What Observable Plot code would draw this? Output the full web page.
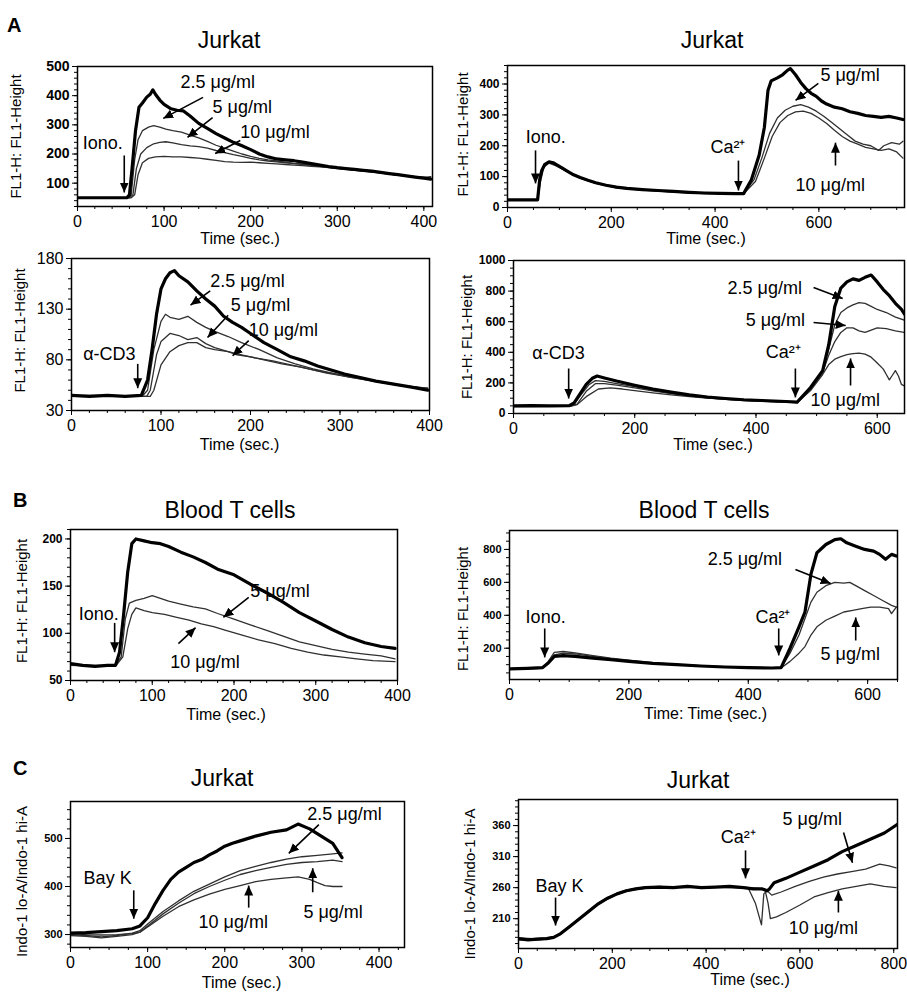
<!DOCTYPE html>
<html><head><meta charset="utf-8">
<script src="https://cdn.jsdelivr.net/npm/d3@7"></script>
<script src="https://cdn.jsdelivr.net/npm/@observablehq/plot@0.6"></script>
<style>
body{margin:0;background:#fff;font-family:"Liberation Sans",Arial,sans-serif;}
#fig{position:relative;width:907px;height:992px;overflow:hidden;background:#fff;}
.title{position:absolute;font-size:23px;transform:translate(-50%,-50%);white-space:nowrap;color:#000;}
.letter{position:absolute;font-size:20px;font-weight:bold;transform:translate(0,-50%);color:#000;}
.panel{position:absolute;}
</style></head>
<body><div id="fig"></div>
<script>
// ---------- Data: [time (sec), signal] ----------
// A, top-left (Jurkat, Iono.)
const a1_ctrl=[[0,50],[20,50],[40,50],[57,50],[60,60],[63,150],[67,280],[71,360],[75,375],[80,395],[84,405],[87,420],[90,405],[95,385],[100,370],[108,355],[115,350],[122,348],[130,330],[140,305],[150,288],[160,270],[170,255],[180,240],[190,228],[200,215],[210,200],[220,190],[230,183],[240,180],[250,177],[260,172],[270,167],[280,162],[290,157],[300,153],[310,150],[320,147],[330,144],[340,141],[350,137],[360,133],[370,129],[380,125],[390,121],[400,117],[408,114]];
const a1_25=[[0,50],[58,50],[62,60],[66,180],[70,250],[75,280],[82,292],[88,297],[95,292],[102,285],[110,280],[120,275],[130,265],[140,255],[150,243],[160,230],[170,220],[180,210],[190,200],[200,192],[210,185],[220,180],[230,176],[240,172],[250,168],[260,165],[270,162],[280,158],[290,155],[300,152],[310,149],[320,146],[330,143],[340,140],[350,136],[360,132],[370,128],[380,125],[390,122],[400,120],[408,122]];
const a1_5=[[0,50],[60,50],[64,60],[68,150],[73,200],[80,222],[88,235],[95,240],[102,242],[110,238],[120,232],[130,228],[140,225],[150,220],[160,212],[170,205],[180,198],[190,192],[200,185],[210,180],[220,176],[230,173],[240,170],[250,167],[260,164],[270,161],[280,158],[290,155],[300,151],[310,148],[320,145],[330,142],[340,139],[350,135],[360,131],[370,128],[380,125],[390,122],[400,120],[408,118]];
const a1_10=[[0,50],[62,50],[66,60],[70,130],[75,170],[82,185],[90,190],[100,192],[110,190],[120,190],[130,188],[140,186],[150,182],[160,178],[170,174],[180,172],[190,171],[200,172],[210,170],[220,168],[230,166],[240,164],[250,162],[260,160],[270,158],[280,156],[290,153],[300,150],[310,147],[320,144],[330,141],[340,138],[350,135],[360,131],[370,128],[380,124],[390,121],[400,118],[408,116]];
// A, top-right (Jurkat, Iono. then Ca2+)
const a2_ctrl=[[0,25],[30,25],[58,25],[62,90],[66,120],[72,140],[80,148],[88,145],[95,138],[105,128],[115,118],[125,108],[140,97],[155,88],[170,80],[190,72],[210,66],[230,62],[260,58],[290,55],[320,52],[350,49],[380,47],[410,46],[440,45],[455,45],[470,90],[485,170],[495,260],[502,380],[508,410],[520,420],[530,430],[540,445],[545,450],[555,430],[565,405],[575,385],[585,370],[595,360],[605,345],[615,335],[630,325],[645,320],[660,310],[675,305],[690,298],[705,295],[720,292],[735,295],[750,290],[762,285]];
const a2_5=[[0,25],[58,25],[62,85],[70,135],[80,146],[95,136],[115,117],[140,96],[170,79],[210,65],[260,57],[320,51],[380,46],[455,44],[475,90],[490,160],[505,240],[520,290],[535,315],[550,328],[565,333],[580,325],[595,312],[610,295],[625,275],[640,255],[655,235],[670,215],[685,205],[700,200],[715,185],[725,200],[740,210],[755,205],[762,215]];
const a2_10=[[0,25],[58,25],[63,80],[70,130],[80,144],[95,134],[115,116],[140,95],[170,78],[210,64],[260,56],[320,50],[380,45],[455,44],[478,85],[495,160],[510,230],[525,275],[540,298],[555,310],[570,312],[585,305],[600,290],[615,272],[630,250],[645,230],[660,215],[675,205],[690,195],[705,190],[720,185],[735,190],[750,180],[762,160]];
// A, bottom-left (Jurkat, anti-CD3)
const a3_ctrl=[[0,45],[20,44],[40,45],[60,44],[78,45],[85,60],[90,90],[95,125],[100,150],[105,160],[110,166],[115,168],[120,163],[130,157],[140,148],[150,140],[160,133],[170,123],[180,117],[190,112],[200,106],[215,97],[230,90],[245,83],[260,79],[275,74],[290,70],[305,66],[320,63],[340,59],[360,56],[380,53],[398,50]];
const a3_25=[[0,45],[40,44],[80,45],[85,50],[92,90],[100,118],[105,125],[110,122],[120,120],[130,123],[140,117],[150,112],[160,108],[175,103],[190,97],[210,90],[230,82],[250,76],[270,71],[290,67],[310,63],[330,60],[350,57],[370,54],[398,52]];
const a3_5=[[0,45],[40,45],[84,44],[88,50],[95,85],[100,98],[110,106],[120,104],[130,100],[140,102],[150,96],[160,92],[175,88],[190,85],[205,82],[225,79],[245,75],[265,71],[285,67],[305,64],[325,61],[345,58],[365,55],[385,53],[398,51]];
const a3_10=[[0,44],[40,44],[88,44],[92,50],[100,75],[110,88],[120,94],[130,97],[140,97],[150,92],[160,90],[175,88],[185,85],[200,83],[215,80],[235,76],[255,73],[275,69],[295,66],[315,63],[335,60],[355,57],[375,54],[398,52]];
// A, bottom-right (Jurkat, anti-CD3 then Ca2+)
const a4_ctrl=[[0,50],[30,52],[60,50],[92,52],[100,70],[110,130],[120,190],[130,230],[138,245],[150,232],[170,212],[200,185],[230,160],[260,140],[290,122],[320,108],[350,98],[380,90],[410,85],[440,80],[468,75],[490,170],[510,280],[520,450],[530,700],[540,820],[550,860],[560,880],[570,870],[580,890],[590,905],[600,860],[610,810],[620,770],[630,720],[640,680],[645,650]];
const a4_25=[[0,48],[92,50],[100,62],[110,115],[125,190],[135,215],[150,210],[170,195],[200,175],[230,152],[260,133],[290,117],[320,104],[350,95],[380,88],[410,83],[440,78],[468,72],[490,160],[510,280],[520,420],[530,580],[540,660],[550,690],[560,710],[570,725],[580,720],[590,700],[600,680],[615,660],[630,630],[645,610]];
const a4_5=[[0,48],[95,50],[105,62],[120,145],[135,195],[150,195],[170,185],[200,168],[230,148],[260,130],[290,115],[320,102],[350,93],[380,86],[410,81],[440,76],[468,72],[490,160],[510,270],[520,380],[530,470],[540,530],[550,560],[560,560],[570,540],[580,530],[590,545],[600,560],[615,555],[630,540],[645,530]];
const a4_10=[[0,45],[95,48],[105,58],[120,110],[140,160],[160,168],[180,160],[200,150],[230,135],[260,122],[290,110],[320,100],[350,92],[380,85],[410,80],[440,75],[468,70],[490,150],[510,255],[520,320],[530,355],[540,372],[550,385],[560,392],[570,395],[580,388],[590,368],[600,330],[610,290],[615,255],[620,220],[625,250],[630,280],[635,245],[640,190],[645,180]];
// B, left (Blood T cells, Iono.)
const b1_ctrl=[[0,68],[15,66],[30,65],[45,66],[55,66],[60,80],[65,120],[70,165],[75,195],[80,200],[90,198],[100,196],[110,195],[120,192],[135,186],[150,181],[165,175],[180,168],[200,162],[220,152],[240,143],[260,133],[280,122],[300,113],[320,104],[340,96],[360,90],[380,86],[397,84]];
const b1_5=[[0,67],[30,66],[55,66],[62,75],[67,115],[72,132],[80,135],[90,137],[100,140],[110,137],[120,134],[135,131],[150,128],[165,126],[180,121],[200,115],[220,109],[240,103],[260,97],[280,91],[300,87],[320,83],[340,80],[360,78],[380,76],[397,73]];
const b1_10=[[0,66],[30,65],[55,65],[64,75],[70,105],[75,120],[80,127],[90,124],[100,122],[115,120],[130,117],[145,114],[160,110],[175,107],[190,103],[210,98],[230,93],[250,89],[270,84],[290,80],[310,77],[330,75],[350,73],[370,71],[397,70]];
// B, right (Blood T cells, Iono. then Ca2+)
const b2_ctrl=[[0,75],[30,78],[55,82],[65,110],[75,150],[90,155],[110,150],[140,140],[170,130],[200,120],[240,108],[280,100],[320,92],[360,86],[400,82],[440,80],[455,82],[470,200],[485,330],[495,420],[505,650],[515,780],[530,830],[545,860],[555,865],[565,840],[580,820],[595,800],[610,790],[620,770],[630,740],[640,770],[648,760]];
const b2_25=[[0,75],[55,80],[65,120],[75,175],[90,180],[110,172],[140,155],[170,140],[200,128],[240,112],[280,102],[320,94],[360,88],[400,83],[440,80],[455,80],[470,170],[485,280],[495,380],[505,480],[515,540],[530,580],[545,600],[560,595],[570,600],[580,580],[595,550],[610,520],[625,490],[640,460],[648,450]];
const b2_5=[[0,72],[55,78],[65,110],[75,160],[90,170],[110,165],[140,150],[170,137],[200,125],[240,110],[280,100],[320,93],[360,87],[400,82],[440,79],[455,80],[470,120],[485,170],[495,210],[505,280],[515,330],[530,370],[545,395],[560,420],[575,430],[590,440],[605,450],[620,450],[635,440],[640,410],[648,450]];
// C, left (Jurkat, Bay K)
const c1_ctrl=[[0,303],[20,304],[40,306],[60,308],[80,312],[90,318],[100,335],[110,365],[120,392],[130,415],[140,430],[150,440],[160,450],[170,456],[180,466],[190,474],[200,484],[210,490],[220,495],[240,505],[260,513],[280,518],[295,530],[310,520],[325,505],[340,490],[352,460]];
const c1_25=[[0,300],[20,298],[40,295],[60,298],[80,303],[90,308],[100,322],[120,348],[140,370],[160,390],[180,405],[200,420],[220,433],[240,442],[260,450],[280,457],[300,462],[320,465],[340,468],[352,470]];
const c1_5=[[0,298],[20,296],[40,293],[60,296],[80,300],[90,305],[100,318],[120,343],[140,365],[160,385],[180,400],[200,413],[220,425],[240,433],[260,440],[280,446],[300,450],[320,452],[340,455],[352,452]];
const c1_10=[[0,302],[20,300],[40,299],[60,300],[80,302],[90,305],[100,316],[120,338],[140,358],[160,372],[180,384],[200,394],[220,402],[240,410],[260,415],[280,418],[295,420],[310,415],[320,408],[330,402],[340,400],[352,400]];
// C, right (Jurkat, Bay K then Ca2+)
const c2_ctrl=[[0,178],[20,176],[40,177],[60,178],[75,180],[90,186],[110,198],[130,210],[150,222],[170,234],[190,243],[210,250],[230,255],[250,258],[270,260],[300,261],[330,260],[360,262],[390,260],[420,261],[450,262],[480,260],[500,258],[520,258],[530,255],[535,258],[545,268],[570,275],[600,285],[630,295],[660,305],[690,318],[720,328],[750,338],[780,348],[808,362]];
const c2_5=[[0,176],[30,175],[60,177],[75,179],[90,185],[110,197],[130,209],[150,221],[170,233],[190,242],[210,249],[230,254],[250,257],[270,259],[300,260],[350,261],[400,261],[450,260],[490,259],[505,235],[518,200],[523,250],[530,255],[540,248],[560,253],[590,262],[620,270],[650,277],[680,282],[710,286],[740,290],[770,298],[790,295],[805,292]];
const c2_10=[[0,179],[30,178],[60,179],[75,181],[90,187],[110,199],[130,211],[150,223],[170,235],[190,244],[210,251],[230,256],[250,259],[270,261],[300,262],[350,260],[400,261],[450,262],[490,260],[525,258],[532,235],[537,210],[550,213],[570,220],[600,232],[630,245],[660,252],[690,258],[720,262],[750,266],[780,262],[805,260]];

// ---------- Annotations (data units) ----------
const a1Notes=[{t:"Iono.",x:6,y:236},{t:"2.5 μg/ml",x:119,y:445},{t:"5 μg/ml",x:156,y:359},{t:"10 μg/ml",x:188,y:274}];
const a1Arrows=[{x1:54,y1:195,x2:54,y2:68},{x1:145,y1:394,x2:99,y2:322},{x1:156,y1:325,x2:127,y2:257},{x1:188,y1:246,x2:159,y2:202}];
const a2Notes=[{t:"Iono.",x:35,y:227},{t:"Ca²⁺",x:391,y:194},{t:"5 μg/ml",x:603,y:428},{t:"10 μg/ml",x:555,y:71}];
const a2Arrows=[{x1:54,y1:185,x2:54,y2:78},{x1:445,y1:152,x2:445,y2:55},{x1:599,y1:402,x2:555,y2:347},{x1:632,y1:136,x2:632,y2:210}];
const a3Notes=[{t:"α-CD3",x:13,y:86},{t:"2.5 μg/ml",x:155,y:158},{t:"5 μg/ml",x:178,y:134},{t:"10 μg/ml",x:198,y:109}];
const a3Arrows=[{x1:74,y1:76,x2:74,y2:52},{x1:155,y1:148,x2:133,y2:134},{x1:175,y1:124,x2:152,y2:102},{x1:198,y1:99,x2:180,y2:84}];
const a4Notes=[{t:"α-CD3",x:31,y:392},{t:"Ca²⁺",x:416,y:399},{t:"2.5 μg/ml",x:353,y:817},{t:"5 μg/ml",x:383,y:608},{t:"10 μg/ml",x:490,y:85}];
const a4Arrows=[{x1:91,y1:294,x2:91,y2:98},{x1:465,y1:294,x2:465,y2:105},{x1:495,y1:824,x2:543,y2:752},{x1:495,y1:595,x2:548,y2:575},{x1:556,y1:183,x2:556,y2:360}];
const b1Notes=[{t:"Iono.",x:10,y:120},{t:"5 μg/ml",x:220,y:145},{t:"10 μg/ml",x:122,y:69}];
const b1Arrows=[{x1:54,y1:111,x2:54,y2:80},{x1:218,y1:138,x2:187,y2:117},{x1:132,y1:89,x2:153,y2:106}];
const b2Notes=[{t:"Iono.",x:27,y:387},{t:"Ca²⁺",x:412,y:387},{t:"2.5 μg/ml",x:332,y:739},{t:"5 μg/ml",x:521,y:162}];
const b2Arrows=[{x1:59,y1:320,x2:59,y2:144},{x1:451,y1:320,x2:451,y2:156},{x1:479,y1:678,x2:538,y2:593},{x1:580,y1:247,x2:580,y2:387}];
const c1Notes=[{t:"Bay K",x:17,y:417},{t:"2.5 μg/ml",x:307,y:550},{t:"5 μg/ml",x:302,y:346},{t:"10 μg/ml",x:166,y:325}];
const c1Arrows=[{x1:82,y1:392,x2:82,y2:333},{x1:322,y1:529,x2:283,y2:469},{x1:314,y1:388,x2:314,y2:438},{x1:231,y1:356,x2:231,y2:402}];
const c2Notes=[{t:"Bay K",x:36,y:263},{t:"Ca²⁺",x:431,y:341},{t:"5 μg/ml",x:563,y:371},{t:"10 μg/ml",x:576,y:194}];
const c2Arrows=[{x1:79,y1:244,x2:79,y2:199},{x1:484,y1:320,x2:484,y2:275},{x1:693,y1:349,x2:712,y2:300},{x1:682,y1:220,x2:682,y2:255}];

// ---------- Tick labels ----------
const ticks0to400=[0,100,200,300,400];
const ticks0to600=[0,200,400,600];
const ticks0to800=[0,200,400,600,800];
const yTicksA1=[100,200,300,400,500];
const yTicksA2=[0,100,200,300,400];
const yTicksA3=[30,80,130,180];
const yTicksA4=[0,200,400,600,800,1000];
const yTicksB1=[50,100,150,200];
const yTicksB2=[200,400,600,800];
const yTicksC1=[300,400,500];
const yTicksC2=[210,260,310,360];

const FL="FL1-H: FL1-Height", INDO="Indo-1 lo-A/Indo-1 hi-A", TS="Time (sec.)";

// ---------- Layout ----------
const panels=[
 {id:"A1",box:[0,50,450,198],frame:[77,432,66,206],xd:[0,410],yd:[20,500],xM:ticks0to400,xm:d3.range(0,411,20),yM:yTicksA1,ym:d3.range(20,501,20),yF:14,yB:true,
  series:[[a1_10,0],[a1_5,0],[a1_25,0],[a1_ctrl,1]],notes:a1Notes,arrows:a1Arrows,yl:FL,ylDx:-61,ylDy:0,xl:TS,xlDx:-15,xlDy:32},
 {id:"A2",box:[450,50,457,198],frame:[507,904,65,207],xd:[0,765],yd:[0,460],xM:ticks0to600,xm:d3.range(0,766,50),yM:yTicksA2,ym:d3.range(0,461,20),yF:12,yB:true,
  series:[[a2_10,0],[a2_5,0],[a2_ctrl,1]],notes:a2Notes,arrows:a2Arrows,yl:FL,ylDx:-44,ylDy:-2,xl:TS,xlDx:0,xlDy:31},
 {id:"A3",box:[0,245,450,207],frame:[71,429,258,410],xd:[0,400],yd:[30,180],xM:ticks0to400,xm:d3.range(0,401,20),yM:yTicksA3,ym:d3.range(30,181,10),yF:16,yB:false,
  series:[[a3_10,0],[a3_5,0],[a3_25,0],[a3_ctrl,1]],notes:a3Notes,arrows:a3Arrows,yl:FL,ylDx:-51,ylDy:-4,xl:TS,xlDx:-11,xlDy:34},
 {id:"A4",box:[450,245,457,207],frame:[513,904,260,413],xd:[0,645],yd:[0,1000],xM:ticks0to600,xm:d3.range(0,646,50),yM:yTicksA4,ym:d3.range(0,1001,50),yF:12,yB:true,
  series:[[a4_10,0],[a4_5,0],[a4_25,0],[a4_ctrl,1]],notes:a4Notes,arrows:a4Arrows,yl:FL,ylDx:-46,ylDy:0,xl:TS,xlDx:4,xlDy:31},
 {id:"B1",box:[0,515,450,207],frame:[70,397,529,680],xd:[0,400],yd:[50,210],xM:ticks0to400,xm:d3.range(0,401,20),yM:yTicksB1,ym:d3.range(50,211,10),yF:12,yB:true,
  series:[[b1_10,0],[b1_5,0],[b1_ctrl,1]],notes:b1Notes,arrows:b1Arrows,yl:FL,ylDx:-48,ylDy:-4,xl:TS,xlDx:-8,xlDy:34},
 {id:"B2",box:[450,515,457,207],frame:[509,897,530,679],xd:[0,650],yd:[10,915],xM:ticks0to600,xm:d3.range(0,651,50),yM:yTicksB2,ym:d3.range(50,901,50),yF:11,yB:true,
  series:[[b2_5,0],[b2_25,0],[b2_ctrl,1]],notes:b2Notes,arrows:b2Arrows,yl:FL,ylDx:-46,ylDy:4,xl:"Time: Time (sec.)",xlDx:2,xlDy:34},
 {id:"C1",box:[0,790,450,202],frame:[70,404,801,947],xd:[0,433],yd:[273,577],xM:ticks0to400,xm:d3.range(0,431,25),yM:yTicksC1,ym:d3.range(280,571,20),yF:11,yB:true,
  series:[[c1_10,0],[c1_5,0],[c1_25,0],[c1_ctrl,1]],notes:c1Notes,arrows:c1Arrows,yl:INDO,ylDx:-48,ylDy:7,xl:TS,xlDx:4,xlDy:35},
 {id:"C2",box:[450,790,457,202],frame:[518,897,799,948],xd:[0,808],yd:[162,402],xM:ticks0to800,xm:d3.range(0,801,40),yM:yTicksC2,ym:d3.range(170,401,10),yF:11,yB:true,
  series:[[c2_10,0],[c2_5,0],[c2_ctrl,1]],notes:c2Notes,arrows:c2Arrows,yl:INDO,ylDx:-48,ylDy:10,xl:TS,xlDx:42,xlDy:31}
];

const titles=[["Jurkat",229,40],["Jurkat",712,40],["Blood T cells",230,510],["Blood T cells",704,510],["Jurkat",222,778],["Jurkat",698,780]];
const letters=[["A",7,25],["B",13,500],["C",13,768]];

const fig=document.getElementById("fig");
const NARROW="'Liberation Sans Narrow','Arial Narrow','Liberation Sans',Arial,sans-serif";

function build(p){
  const [bx,by,bw,bh]=p.box,[fl,fr,ft,fb]=p.frame;
  const lines=p.series.map(([data,thick])=>Plot.line(data,{x:d=>d[0],y:d=>d[1],stroke:thick?"#000":"#303030",strokeWidth:thick?3.2:1.3,clip:true,strokeLinejoin:"round"}));
  const svg=Plot.plot({
    width:bw,height:bh,marginLeft:fl-bx,marginRight:bx+bw-fr,marginTop:ft-by,marginBottom:by+bh-fb,
    x:{domain:p.xd},y:{domain:p.yd},
    style:{background:"transparent",fontFamily:"'Liberation Sans',Arial,sans-serif",color:"#000",overflow:"visible"},
    marks:[
      Plot.axisX(p.xm,{tickSize:3,tickFormat:()=>"",label:null}),
      Plot.axisX(p.xM,{tickSize:5,tickPadding:4,tickFormat:d=>String(d),label:null,fontSize:16}),
      Plot.axisY(p.ym,{tickSize:3,tickFormat:()=>"",label:null}),
      Plot.axisY(p.yM,{tickSize:5,tickPadding:3,tickFormat:d=>String(d),label:null,fontSize:p.yF,fontWeight:p.yB?"bold":"normal",fontFamily:p.yB?NARROW:"'Liberation Sans',Arial,sans-serif"}),
      ...lines,
      Plot.frame({stroke:"#000",strokeWidth:1.5}),
      Plot.link(p.arrows,{x1:"x1",y1:"y1",x2:"x2",y2:"y2",stroke:"#000",strokeWidth:1.6}),
      Plot.text(p.notes,{x:"x",y:"y",text:"t",textAnchor:"start",lineAnchor:"middle",fontSize:18}),
      Plot.text([p.yl],{text:d=>d,frameAnchor:"left",rotate:-90,textAnchor:"middle",lineAnchor:"middle",dx:p.ylDx,dy:p.ylDy,fontSize:15}),
      Plot.text([p.xl],{text:d=>d,frameAnchor:"bottom",textAnchor:"middle",lineAnchor:"middle",dx:p.xlDx,dy:p.xlDy,fontSize:16})
    ]
  });
  const ns="http://www.w3.org/2000/svg";
  const defs=document.createElementNS(ns,"defs");
  const mk=document.createElementNS(ns,"marker");
  const mid="ah-"+p.id;
  mk.setAttribute("id",mid);mk.setAttribute("viewBox","0 0 10 10");mk.setAttribute("refX","10");mk.setAttribute("refY","5");
  mk.setAttribute("markerWidth","10");mk.setAttribute("markerHeight","10");mk.setAttribute("markerUnits","userSpaceOnUse");mk.setAttribute("orient","auto");
  const path=document.createElementNS(ns,"path");path.setAttribute("d","M0,0.5L10,5L0,9.5Z");path.setAttribute("fill","#000");
  mk.appendChild(path);defs.appendChild(mk);svg.insertBefore(defs,svg.firstChild);
  svg.querySelectorAll('g[aria-label="link"] path').forEach(el=>el.setAttribute("marker-end",`url(#${mid})`));
  const wrap=document.createElement("div");
  wrap.className="panel";wrap.style.left=bx+"px";wrap.style.top=by+"px";wrap.style.width=bw+"px";wrap.style.height=bh+"px";
  svg.style.maxWidth="none";
  wrap.appendChild(svg);fig.appendChild(wrap);
}
panels.forEach(build);
titles.forEach(([t,x,y])=>{const d=document.createElement("div");d.className="title";d.textContent=t;d.style.left=x+"px";d.style.top=y+"px";fig.appendChild(d);});
letters.forEach(([t,x,y])=>{const d=document.createElement("div");d.className="letter";d.textContent=t;d.style.left=x+"px";d.style.top=y+"px";fig.appendChild(d);});
</script>
</body></html>
